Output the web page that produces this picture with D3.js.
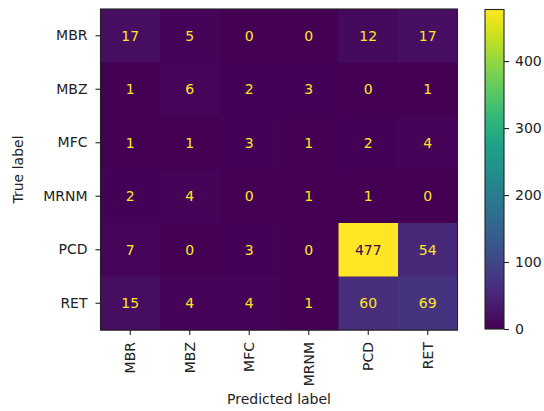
<!DOCTYPE html>
<html>
<head>
<meta charset="utf-8">
<script src="https://cdn.jsdelivr.net/npm/d3@7"></script>
<style>
  body { margin: 0; background: #fff; }
  svg { display: block; font-family: "DejaVu Sans", sans-serif; }
</style>
</head>
<body>
<svg id="chart" width="544" height="411"></svg>
<script>
// Confusion matrix: rows are true labels, columns are predicted labels
const classes = ["MBR", "MBZ", "MFC", "MRNM", "PCD", "RET"];
const rowMBR  = [17, 5, 0, 0, 12, 17];
const rowMBZ  = [1, 6, 2, 3, 0, 1];
const rowMFC  = [1, 1, 3, 1, 2, 4];
const rowMRNM = [2, 4, 0, 1, 1, 0];
const rowPCD  = [7, 0, 3, 0, 477, 54];
const rowRET  = [15, 4, 4, 1, 60, 69];
const matrix = [rowMBR, rowMBZ, rowMFC, rowMRNM, rowPCD, rowRET];
const colorbarTicks = [0, 100, 200, 300, 400];

const FS = 14;
const svg = d3.select("#chart");
const plot = { left: 100.5, top: 9, right: 457.5, bottom: 330 };
const cb = { left: 485, right: 504, top: 9.5, bottom: 329 };

const cells = [];
matrix.forEach((row, i) => row.forEach((v, j) => cells.push({ r: classes[i], c: classes[j], v })));
const vmin = d3.min(cells, d => d.v), vmax = d3.max(cells, d => d.v);

const x = d3.scaleBand().domain(classes).range([plot.left, plot.right]);
const y = d3.scaleBand().domain(classes).range([plot.top, plot.bottom]);
const color = d3.scaleSequential(d3.interpolateViridis).domain([vmin, vmax]);
const threshold = (vmin + vmax) / 2;

// heatmap cells
svg.append("g").selectAll("rect").data(cells).join("rect")
  .attr("x", d => x(d.c)).attr("y", d => y(d.r))
  .attr("width", x.bandwidth() + 0.5).attr("height", y.bandwidth() + 0.5)
  .attr("fill", d => color(d.v));

// value labels
svg.append("g").selectAll("text").data(cells).join("text")
  .attr("x", d => x(d.c) + x.bandwidth() / 2)
  .attr("y", d => y(d.r) + y.bandwidth() / 2)
  .attr("text-anchor", "middle").attr("dy", "0.36em")
  .attr("font-size", FS)
  .attr("fill", d => d.v < threshold ? d3.interpolateViridis(1) : d3.interpolateViridis(0))
  .text(d => d.v);

// frame
svg.append("rect")
  .attr("x", plot.left).attr("y", plot.top)
  .attr("width", plot.right - plot.left).attr("height", plot.bottom - plot.top)
  .attr("fill", "none").attr("stroke", "#222").attr("stroke-width", 1.1);

// axes
const axisStyle = g => {
  g.select(".domain").remove();
  g.selectAll(".tick line").attr("stroke", "#222").attr("stroke-width", 1.1);
  g.selectAll(".tick text").attr("fill", "#222").attr("font-size", FS)
    .attr("font-family", "DejaVu Sans, sans-serif");
};
svg.append("g").attr("transform", `translate(${plot.left},0)`)
  .call(d3.axisLeft(y).tickSize(5).tickPadding(8)).call(axisStyle);

const xAxis = svg.append("g").attr("transform", `translate(0,${plot.bottom})`)
  .call(d3.axisBottom(x).tickSize(5).tickPadding(8)).call(axisStyle);
xAxis.selectAll(".tick text")
  .attr("transform", "rotate(-90)")
  .attr("text-anchor", "end")
  .attr("x", -12).attr("y", 0).attr("dy", "0.36em");

svg.append("text")
  .attr("x", (plot.left + plot.right) / 2).attr("y", 404)
  .attr("text-anchor", "middle").attr("font-size", FS).attr("fill", "#222")
  .text("Predicted label");
svg.append("text")
  .attr("transform", `translate(23,${(plot.top + plot.bottom) / 2}) rotate(-90)`)
  .attr("text-anchor", "middle").attr("font-size", FS).attr("fill", "#222")
  .text("True label");

// colorbar
const defs = svg.append("defs");
const grad = defs.append("linearGradient").attr("id", "cbgrad")
  .attr("x1", 0).attr("y1", 1).attr("x2", 0).attr("y2", 0);
d3.range(0, 1.0001, 0.05).forEach(t => grad.append("stop")
  .attr("offset", t).attr("stop-color", d3.interpolateViridis(t)));
svg.append("rect")
  .attr("x", cb.left).attr("y", cb.top)
  .attr("width", cb.right - cb.left).attr("height", cb.bottom - cb.top)
  .attr("fill", "url(#cbgrad)").attr("stroke", "#222").attr("stroke-width", 1.1);
const cbScale = d3.scaleLinear().domain([vmin, vmax]).range([cb.bottom, cb.top]);
svg.append("g").attr("transform", `translate(${cb.right},0)`)
  .call(d3.axisRight(cbScale).tickValues(colorbarTicks).tickSize(5).tickPadding(6))
  .call(axisStyle);
</script>
</body>
</html>
